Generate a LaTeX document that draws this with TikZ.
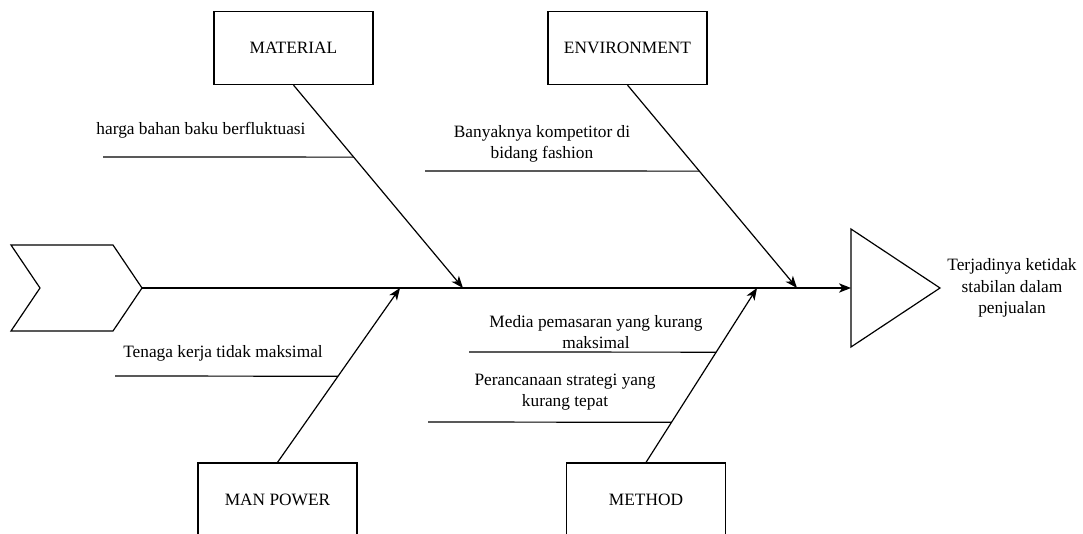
\documentclass[tikz,border=0pt]{standalone}
\usepackage{fontspec}
\setmainfont{Liberation Serif}
\usetikzlibrary{arrows.meta,calc}

\tikzset{
    bone/.style={line width=0.9pt, -{Stealth[length=9pt,width=7pt,inset=2.5pt]}},
    catbox/.style={draw, line width=0.9pt, minimum width=119.25pt, minimum height=54.75pt, font=\fontsize{13}{16}\selectfont},
    causetext/.style={align=center, font=\fontsize{13}{16}\selectfont},
    causeline/.style={line width=0.9pt}
}

\begin{document}
\begin{tikzpicture}[x=0.75pt, y=-0.75pt]
        \useasboundingbox (0, 0) rectangle (1083, 534);
        % ekor dan kepala ikan
        \draw[line width=0.9pt] (11, 245) -- (113, 245) -- (142, 288) -- (113, 331) -- (11, 331) -- (40, 288) -- cycle;
        \coordinate (tail) at (142, 288);
        \coordinate (head) at (851, 288);
        \draw[line width=0.9pt] (head) -- (851, 229) -- (940, 288) -- (851, 347) -- cycle;
        \draw[bone] (tail) -- (head);
        \node[causetext] (effect) at (1012, 288) {Terjadinya ketidak\\stabilan dalam\\penjualan};

        % kategori
        \node[catbox] (material) at (293.5, 48) {MATERIAL};
        \node[catbox] (environment) at (627.5, 48) {ENVIRONMENT};
        \node[catbox] (manpower) at (277.5, 499.5) {MAN POWER};
        \node[catbox] (method) at (646, 499.5) {METHOD};
        \coordinate (matend) at (463, 288);
        \coordinate (envend) at (797, 288);
        \coordinate (manend) at (400, 288);
        \coordinate (metend) at (757, 288);
        \draw[bone] (material.south) -- (matend);
        \draw[bone] (environment.south) -- (envend);
        \draw[bone] (manpower.north) -- (manend);
        \draw[bone] (method.north) -- (metend);

        % penyebab
        \coordinate (c1a) at (103, 157);
        \coordinate (c1b) at ($(material.south)!0.355!(matend)$);
        \draw[causeline] (c1a) -- (c1b);
        \node[causetext] (c1) at (201, 130) {harga bahan baku berfluktuasi};
        \coordinate (c2a) at (425, 171);
        \coordinate (c2b) at ($(environment.south)!0.424!(envend)$);
        \draw[causeline] (c2a) -- (c2b);
        \node[causetext] (c2) at (542, 144) {Banyaknya kompetitor di\\bidang fashion};
        \coordinate (c3a) at (115, 376);
        \coordinate (c3b) at ($(manpower.north)!0.494!(manend)$);
        \draw[causeline] (c3a) -- (c3b);
        \node[causetext] (c3) at (223, 353) {Tenaga kerja tidak maksimal};
        \coordinate (c4a) at (469, 352);
        \coordinate (c4b) at ($(method.north)!0.632!(metend)$);
        \draw[causeline] (c4a) -- (c4b);
        \node[causetext] (c4) at (596, 332) {Media pemasaran yang kurang\\maksimal};
        \coordinate (c5a) at (428, 422);
        \coordinate (c5b) at ($(method.north)!0.23!(metend)$);
        \draw[causeline] (c5a) -- (c5b);
        \node[causetext] (c5) at (565, 392) {Perancanaan strategi yang\\kurang tepat};
\end{tikzpicture}
\end{document}
